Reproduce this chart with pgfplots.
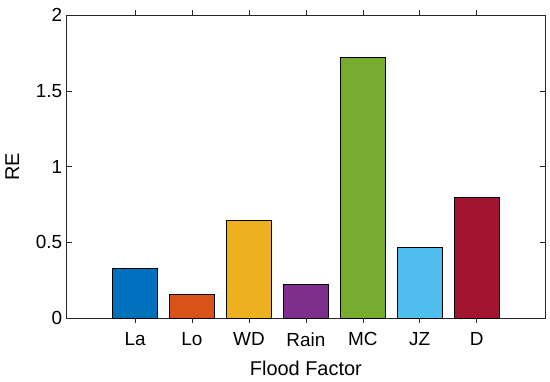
\documentclass[border=0pt]{standalone}
\usepackage{fontspec}
\setmainfont{Liberation Sans}
\usepackage{pgfplots}
\pgfplotsset{compat=1.18}
\definecolor{c1}{rgb}{0,0.447,0.741}
\definecolor{c2}{rgb}{0.85,0.325,0.098}
\definecolor{c3}{rgb}{0.929,0.694,0.125}
\definecolor{c4}{rgb}{0.494,0.184,0.556}
\definecolor{c5}{rgb}{0.466,0.674,0.188}
\definecolor{c6}{rgb}{0.301,0.745,0.933}
\definecolor{c7}{rgb}{0.635,0.078,0.184}
\definecolor{axc}{rgb}{0.15,0.15,0.15}
\begin{document}
\begin{tikzpicture}
\begin{axis}[
  scale only axis,
  width=478bp, height=303bp,
  xmin=-1.2, xmax=7.2,
  ymin=0, ymax=2,
  xtick={0,1,2,3,4,5,6},
  xticklabels={La,Lo,WD,Rain,MC,JZ,D},
  ytick={0,0.5,1,1.5,2},
  yticklabels={0,0.5,1,1.5,2},
  tick align=inside,
  major tick length=5bp,
  axis line style={axc, line width=0.6pt},
  every tick/.style={axc, line width=0.6pt},
  tick label style={font=\fontsize{19}{21}\selectfont, text=black},
  label style={font=\fontsize{20}{22}\selectfont},
  xlabel={Flood Factor},
  ylabel={RE},
  xticklabel style={yshift=-6bp},
  yticklabel style={xshift=-1bp},
  xlabel style={yshift=-8bp},
  ylabel style={yshift=10bp},
  /pgf/number format/assume math mode=true,
  ybar,
  bar width=0.79,
  bar shift=0pt,
  every axis plot/.append style={draw=black, line width=0.5pt},
]
\addplot[fill=c1] coordinates {(0,0.328)};
\addplot[fill=c2] coordinates {(1,0.160)};
\addplot[fill=c3] coordinates {(2,0.649)};
\addplot[fill=c4] coordinates {(3,0.222)};
\addplot[fill=c5] coordinates {(4,1.720)};
\addplot[fill=c6] coordinates {(5,0.467)};
\addplot[fill=c7] coordinates {(6,0.800)};
\end{axis}
\path ([shift={(-66.7bp,-63bp)}]current axis.south west) rectangle ([shift={(5bp,15bp)}]current axis.north east);
\end{tikzpicture}
\end{document}
